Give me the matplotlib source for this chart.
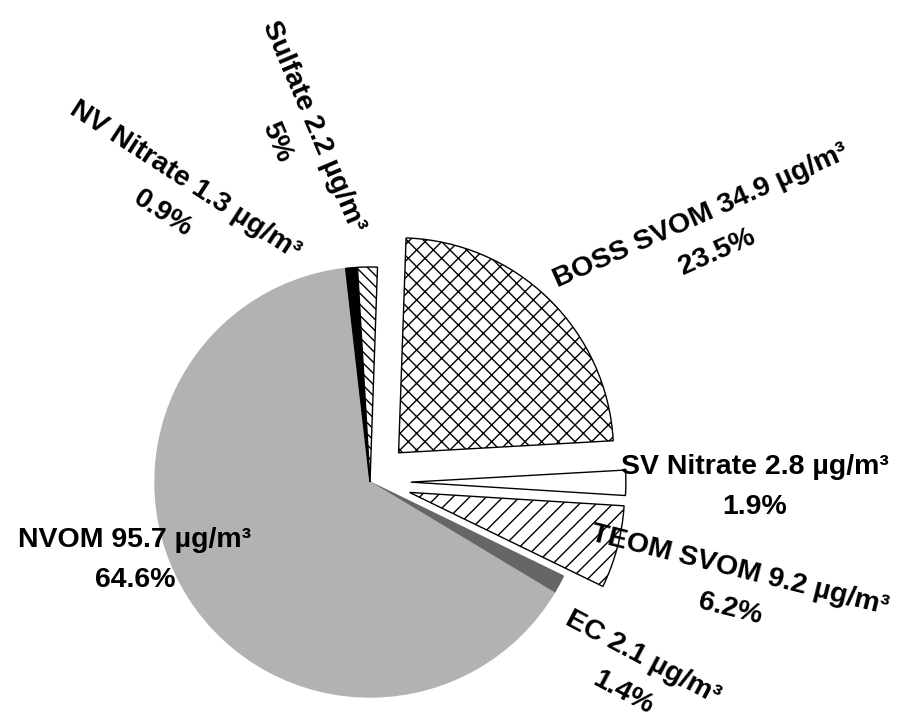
import matplotlib.pyplot as plt

# Mass concentrations (ug/m3) for each fraction, clockwise from 12 o'clock
names = ['BOSS SVOM', 'SV Nitrate', 'TEOM SVOM', 'EC', 'NVOM', 'NV Nitrate', 'Sulfate']
conc = [34.9, 2.8, 9.2, 2.1, 95.7, 1.3, 2.2]
pct_labels = ['23.5%', '1.9%', '6.2%', '1.4%', '64.6%', '0.9%', '5%']

colors = ['white', 'white', 'white', '#666666', '#b2b2b2', 'black', 'white']
hatches = ['xx', None, '//', None, None, None, '\\\\\\']
outlined = [True, True, True, False, False, True, True]

W, H = 908, 725
R = 215
# pie explode is given in data units, here pixels
explode = [0.19 * R, 0.19 * R, 0.19 * R, 0, 0, 0, 0]

# label placement in pixel space (x, y from top) and rotation
label_pos = [(709, 234), (755, 487), (735, 590), (633, 675),
             (135, 560), (174, 197), (295, 134)]
label_rot = [24, 0, -14, -28, 0, -33, -67]

plt.rcParams['font.family'] = ['Liberation Sans', 'DejaVu Sans']

fig = plt.figure(figsize=(W / 100, H / 100), dpi=100)
ax = fig.add_axes([0, 0, 1, 1])

wedges, _ = ax.pie(conc, colors=colors, explode=explode, startangle=88,
                   counterclock=False, radius=R, center=(370, H - 482),
                   wedgeprops=dict(linewidth=1.0))

for w, c, h, edge in zip(wedges, colors, hatches, outlined):
    w.set_edgecolor('black' if edge else c)
    if h:
        w.set_hatch(h)

for name, val, pct, (x, y), rot in zip(names, conc, pct_labels, label_pos, label_rot):
    ax.text(x, H - y, f'{name} {val} µg/m³\n{pct}', ha='center', va='center',
            rotation=rot, rotation_mode='anchor', fontsize=20.5,
            fontweight='bold', linespacing=1.7)

ax.set_xlim(0, W)
ax.set_ylim(0, H)
ax.axis('off')

fig.savefig('out.png', dpi=100)
